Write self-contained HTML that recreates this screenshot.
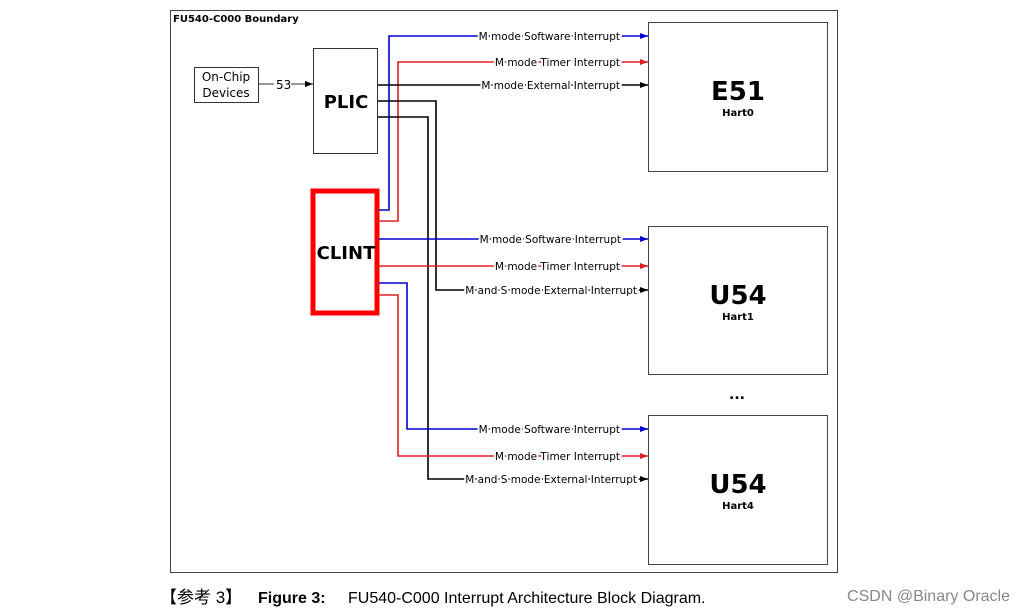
<!DOCTYPE html>
<html><head><meta charset="utf-8"><style>
body{margin:0;background:#fff;width:1025px;height:614px;overflow:hidden}
svg{position:absolute;left:0;top:0}
text{font-family:"DejaVu Sans","Liberation Sans",sans-serif}
</style></head><body>
<svg width="1025" height="614" viewBox="0 0 1025 614">
<defs>
<marker id="ab" markerWidth="8" markerHeight="6" refX="8" refY="3" orient="auto" markerUnits="userSpaceOnUse"><path d="M0,0L8,3L0,6z" fill="#0000d0"/></marker>
<marker id="ar" markerWidth="8" markerHeight="6" refX="8" refY="3" orient="auto" markerUnits="userSpaceOnUse"><path d="M0,0L8,3L0,6z" fill="#e02020"/></marker>
<marker id="ak" markerWidth="8" markerHeight="6" refX="8" refY="3" orient="auto" markerUnits="userSpaceOnUse"><path d="M0,0L8,3L0,6z" fill="#000"/></marker>
</defs>
<rect x="170.5" y="10.5" width="667" height="562" fill="none" stroke="#444" stroke-width="1"/>
<text x="173" y="22" font-size="10" font-weight="bold">FU540-C000 Boundary</text>
<rect x="194.5" y="67.5" width="64" height="35" fill="none" stroke="#333"/>
<text x="226" y="81" font-size="12" text-anchor="middle">On-Chip</text>
<text x="226" y="97" font-size="12" text-anchor="middle">Devices</text>
<line x1="259" y1="84" x2="274" y2="84" stroke="#333"/>
<text x="276" y="89" font-size="12">53</text>
<line x1="291" y1="84" x2="313" y2="84" stroke="#333" marker-end="url(#ak)"/>
<rect x="313.5" y="48.5" width="64" height="105" fill="#fff" stroke="#333"/>
<text x="346" y="108" font-size="18" font-weight="bold" text-anchor="middle">PLIC</text>
<rect x="313" y="191" width="64" height="122" fill="#fff" stroke="#f00" stroke-width="5"/>
<text x="346" y="259" font-size="18" font-weight="bold" text-anchor="middle">CLINT</text>
<g fill="none" stroke-width="1.6">
<polyline points="379,210 389,210 389,36 648,36" stroke="#0000d0" marker-end="url(#ab)"/>
<polyline points="379,221 398,221 398,62 648,62" stroke="#e02020" marker-end="url(#ar)"/>
<polyline points="378,85 648,85" stroke="#000" marker-end="url(#ak)"/>
<polyline points="378,101 436,101 436,290 648,290" stroke="#000" marker-end="url(#ak)"/>
<polyline points="378,117 428,117 428,479 648,479" stroke="#000" marker-end="url(#ak)"/>
<polyline points="379,239 648,239" stroke="#0000d0" marker-end="url(#ab)"/>
<polyline points="379,266 648,266" stroke="#e02020" marker-end="url(#ar)"/>
<polyline points="379,283 407,283 407,429 648,429" stroke="#0000d0" marker-end="url(#ab)"/>
<polyline points="379,295 398,295 398,456 648,456" stroke="#e02020" marker-end="url(#ar)"/>
</g>
<g font-size="10.5" text-anchor="end">
<text x="620" y="40" fill="#000"><tspan style="paint-order:stroke" stroke="#fff" stroke-width="4">M mode Software Interrupt</tspan></text>
<text x="620" y="66"><tspan style="paint-order:stroke" stroke="#fff" stroke-width="4">M mode Timer Interrupt</tspan></text>
<text x="620" y="89"><tspan style="paint-order:stroke" stroke="#fff" stroke-width="4">M mode External Interrupt</tspan></text>
<text x="621" y="243"><tspan style="paint-order:stroke" stroke="#fff" stroke-width="4">M mode Software Interrupt</tspan></text>
<text x="620" y="270"><tspan style="paint-order:stroke" stroke="#fff" stroke-width="4">M mode Timer Interrupt</tspan></text>
<text x="637" y="294"><tspan style="paint-order:stroke" stroke="#fff" stroke-width="4">M and S mode External Interrupt</tspan></text>
<text x="620" y="433"><tspan style="paint-order:stroke" stroke="#fff" stroke-width="4">M mode Software Interrupt</tspan></text>
<text x="620" y="460"><tspan style="paint-order:stroke" stroke="#fff" stroke-width="4">M mode Timer Interrupt</tspan></text>
<text x="637" y="483"><tspan style="paint-order:stroke" stroke="#fff" stroke-width="4">M and S mode External Interrupt</tspan></text>
</g>
<rect x="648.5" y="22.5" width="179" height="149" fill="#fff" stroke="#444"/>
<text x="738" y="100" font-size="26" font-weight="bold" text-anchor="middle">E51</text>
<text x="738" y="116" font-size="10" font-weight="bold" text-anchor="middle">Hart0</text>
<rect x="648.5" y="226.5" width="179" height="148" fill="#fff" stroke="#444"/>
<text x="738" y="304" font-size="26" font-weight="bold" text-anchor="middle">U54</text>
<text x="738" y="320" font-size="10" font-weight="bold" text-anchor="middle">Hart1</text>
<text x="737" y="399" font-size="14" font-weight="bold" text-anchor="middle">...</text>
<rect x="648.5" y="415.5" width="179" height="149" fill="#fff" stroke="#444"/>
<text x="738" y="493" font-size="26" font-weight="bold" text-anchor="middle">U54</text>
<text x="738" y="509" font-size="10" font-weight="bold" text-anchor="middle">Hart4</text>
<text x="160" y="603" font-size="17" font-family="'Liberation Sans','Noto Sans CJK SC',sans-serif" style="font-family:'Liberation Sans','Noto Sans CJK SC',sans-serif">【参考 3】</text>
<text x="258" y="603" font-size="16" font-weight="bold" style="font-family:'Liberation Sans',sans-serif">Figure 3:</text>
<text x="348" y="603" font-size="16" style="font-family:'Liberation Sans',sans-serif">FU540-C000 Interrupt Architecture Block Diagram.</text>
<text x="1010" y="601" font-size="16" fill="#888" text-anchor="end" style="font-family:'Liberation Sans',sans-serif">CSDN @Binary Oracle</text>
</svg>
</body></html>
